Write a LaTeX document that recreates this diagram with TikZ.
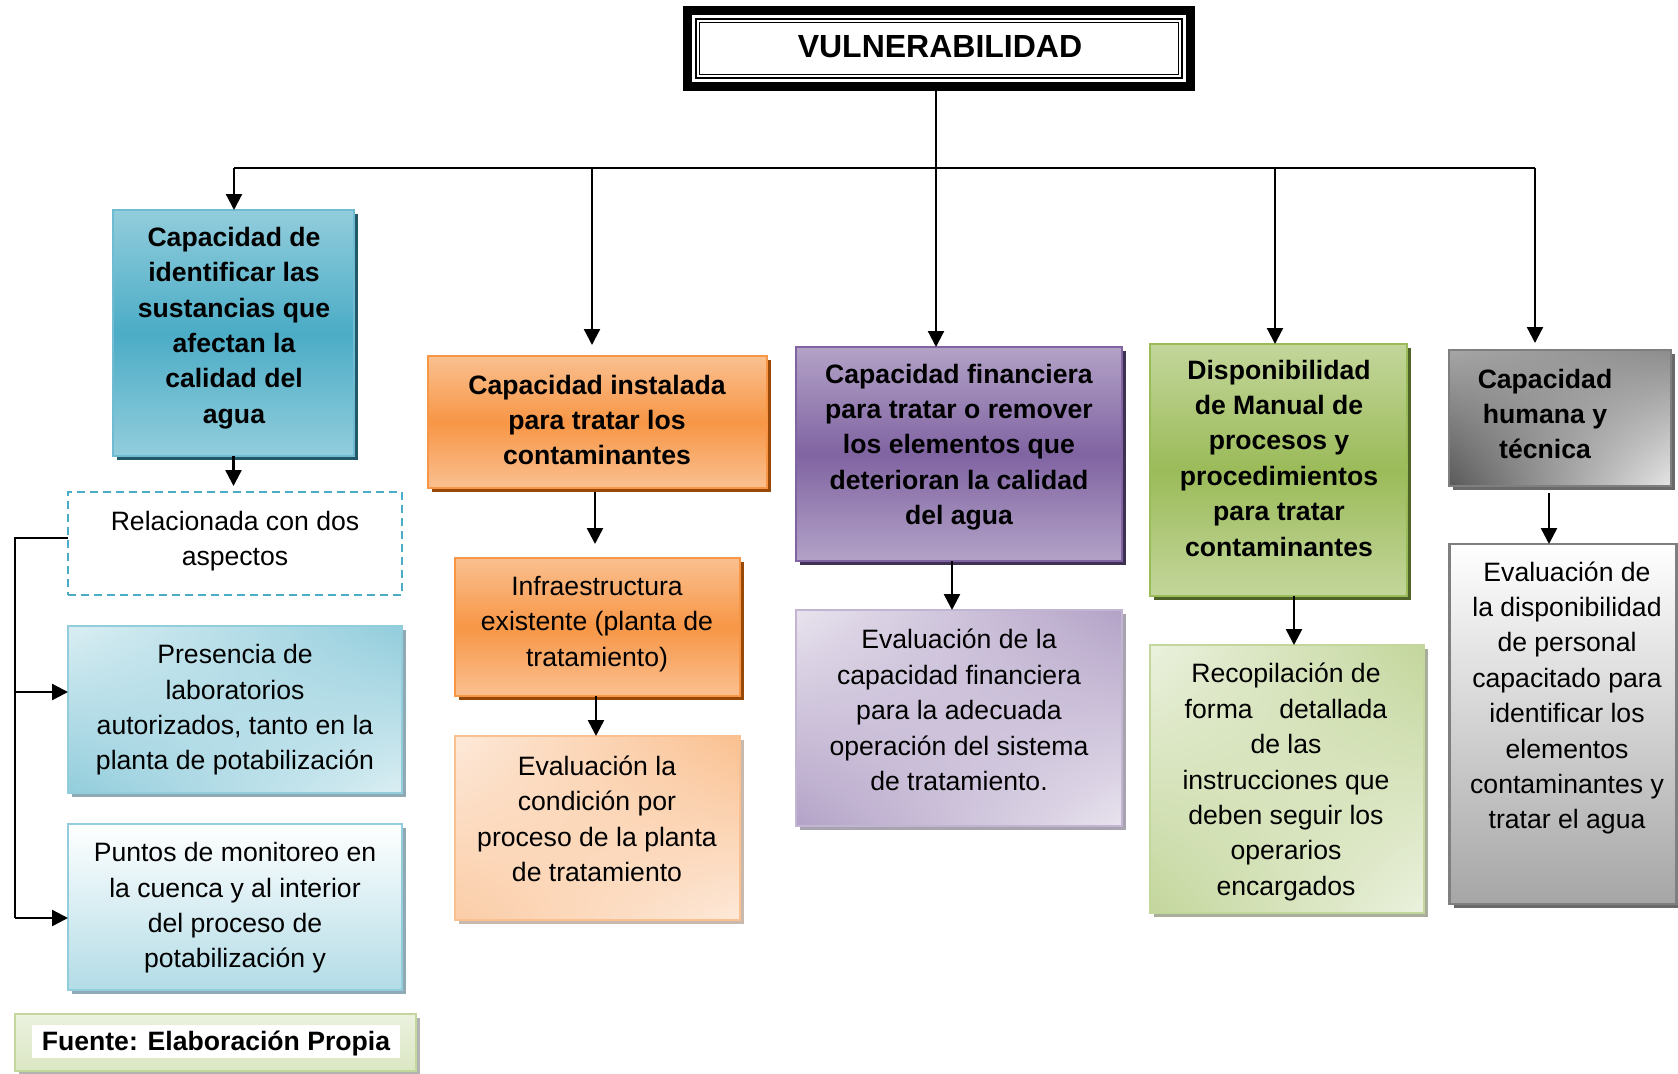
\documentclass[tikz,border=0pt]{standalone}
\usepackage{fontspec}
\setmainfont{Liberation Sans}
\usetikzlibrary{shadows,shadings,arrows.meta}
\definecolor{blueM}{HTML}{4BACC6}
\definecolor{blueL}{HTML}{92CDDC}
\definecolor{blueLL}{HTML}{DAEEF3}
\definecolor{blueB}{HTML}{6FBCD2}
\definecolor{blueS}{HTML}{215968}
\definecolor{blueLS}{HTML}{8FAAB4}
\definecolor{orangeM}{HTML}{F79646}
\definecolor{orangeL}{HTML}{FAC090}
\definecolor{orangeLL}{HTML}{FDE9D9}
\definecolor{orangeS}{HTML}{984807}
\definecolor{orangeLS}{HTML}{C9B8AC}
\definecolor{purpleM}{HTML}{8064A2}
\definecolor{purpleL}{HTML}{B3A2C7}
\definecolor{purpleLL}{HTML}{E8E3EE}
\definecolor{purpleS}{HTML}{3F3151}
\definecolor{purpleLS}{HTML}{A9A3B0}
\definecolor{greenM}{HTML}{9BBB59}
\definecolor{greenL}{HTML}{C3D69B}
\definecolor{greenLL}{HTML}{EBF1DE}
\definecolor{greenS}{HTML}{4F6228}
\definecolor{greenLS}{HTML}{A9AE9C}
\definecolor{grayB}{HTML}{7F7F7F}
\definecolor{grayS}{HTML}{6A6A6A}
\begin{document}
\begin{tikzpicture}[x=0.5pt,y=-0.5pt,
  every node/.style={inner sep=0pt, outer sep=0pt},
  txt/.style={font=\fontsize{13.3}{17.7}\selectfont, align=center, text=black},
  txtb/.style={font=\fontsize{13.3}{17.7}\selectfont\bfseries, align=center, text=black},
  box/.style={rectangle, line width=0.9pt},
  shad/.style={general shadow={fill=#1, shadow xshift=2pt, shadow yshift=-2pt}},
  arr/.style={line width=1.25pt, -{Triangle[length=8pt,width=8pt]}},
  arrT/.style={line width=1.1pt, -{Triangle[length=8pt,width=8pt]}},
  thinln/.style={line width=1.1pt},
  brln/.style={line width=0.8pt},
  blueTop/.style={box, draw=blueB, top color=blueL, bottom color=blueL, middle color=blueM, shad=blueS},
  blueDiag/.style={box, draw=blueL, upper left=blueLL, upper right=blueL, lower left=blueL, lower right=blueLL, shad=blueLS},
  blueVert/.style={box, draw=blueL, top color=white, bottom color=blueL!70, shad=blueLS},
  orangeTop/.style={box, draw=orangeM, top color=orangeL, bottom color=orangeL, middle color=orangeM, shad=orangeS},
  orangeDiag/.style={box, draw=orangeL, upper left=orangeLL, upper right=orangeL, lower left=orangeL!80, lower right=orangeLL, shad=orangeLS},
  purpleTop/.style={box, draw=purpleM, top color=purpleL, bottom color=purpleL, middle color=purpleM, shad=purpleS},
  purpleDiag/.style={box, draw=purpleL!80, upper left=purpleLL, upper right=purpleL, lower left=purpleL, lower right=purpleLL, shad=purpleLS},
  greenTop/.style={box, draw=greenM, top color=greenL, bottom color=greenL, middle color=greenM, shad=greenS},
  greenDiag/.style={box, draw=greenL, upper left=greenLL, upper right=greenL, lower left=greenL, lower right=greenLL, shad=greenLS},
  grayTop/.style={box, draw=grayB, upper left=gray!70, upper right=gray!110!black, lower left=black!65, lower right=black!10, shad=grayS},
  grayVert/.style={box, draw=grayB, line width=1.1pt, top color=white, bottom color=black!35, shad=grayS}
]
\useasboundingbox[fill=white] (0,0) rectangle (1678,1073);

% title
\node[draw=black, line width=4.5pt, fill=white, minimum width=251.5pt, minimum height=38pt] (T) at (939,48.5) {};
\draw[line width=1.2pt] ([shift={(4.25pt,-4.25pt)}]T.north west) rectangle ([shift={(-4.25pt,4.25pt)}]T.south east);
\draw[line width=0.45pt] ([shift={(6.2pt,-6.2pt)}]T.north west) rectangle ([shift={(-6.2pt,6.2pt)}]T.south east);
\node[font=\fontsize{16}{19}\selectfont\bfseries] (Tt) at (940,46.5) {VULNERABILIDAD};

% column 1
\node[blueTop, minimum width=120.5pt, minimum height=123pt] (b1) at (233.5,333) {};
\node[txtb] (t1) at (234,328) {Capacidad de\\identificar las\\sustancias que\\afectan la\\calidad del\\agua};
\node[box, draw=blueM, dash pattern=on 4pt off 2.5pt, fill=white, minimum width=167pt, minimum height=51.5pt] (dash) at (235,543.5) {};
\node[txt] (tdash) at (235,541) {Relacionada con dos\\aspectos};
\node[blueDiag, minimum width=167pt, minimum height=83.5pt] (pres) at (235,709.5) {};
\node[txt] (tpres) at (235,710) {Presencia de\\laboratorios\\autorizados, tanto en la\\planta de potabilización};
\node[blueVert, minimum width=167pt, minimum height=83pt] (punt) at (235,907) {};
\node[txt] (tpunt) at (235,908) {Puntos de monitoreo en\\la cuenca y al interior\\del proceso de\\potabilización y};

% fuente
\node[box, draw=greenL, top color=greenLL, bottom color=greenL!60, shad=black!30, minimum width=200.5pt, minimum height=28.5pt] (fu) at (215.5,1042.5) {};
\node[fill=white, minimum width=184pt, minimum height=16.5pt] (fuw) at (216,1041.5) {};
\node[txtb] (tfu) at (216,1043) {Fuente: Elaboración Propia};

% column 2
\node[orangeTop, minimum width=169.5pt, minimum height=66pt] (b2) at (597.5,422) {};
\node[txtb] (t2) at (597,420) {Capacidad instalada\\para tratar los\\contaminantes};
\node[orangeTop, minimum width=142.5pt, minimum height=69pt] (infra) at (597.5,627) {};
\node[txt] (tinfra) at (597,624) {Infraestructura\\existente (planta de\\tratamiento)};
\node[orangeDiag, minimum width=142.5pt, minimum height=92pt] (evo) at (597.5,828) {};
\node[txt] (tevo) at (597,819) {Evaluación la\\condición por\\proceso de la planta\\de tratamiento};

% column 3
\node[purpleTop, minimum width=163pt, minimum height=107pt] (pf) at (959,454) {};
\node[txtb] (tpf) at (959,447) {Capacidad financiera\\para tratar o remover\\los elementos que\\deterioran la calidad\\del agua};
\node[purpleDiag, minimum width=163pt, minimum height=108pt] (ep) at (959,718) {};
\node[txt] (tep) at (959,710) {Evaluación de la\\capacidad financiera\\para la adecuada\\operación del sistema\\de tratamiento.};

% column 4
\node[greenTop, minimum width=128.5pt, minimum height=126pt] (gm) at (1278.5,470) {};
\node[txtb] (tgm) at (1279,458) {Disponibilidad\\de Manual de\\procesos y\\procedimientos\\para tratar\\contaminantes};
\node[greenDiag, minimum width=137pt, minimum height=134pt] (rc) at (1287,779) {};
\node[txt] (trc) at (1286,782) {Recopilación de\\forma\hspace{1em}detallada\\de las\\instrucciones que\\deben seguir los\\operarios\\encargados};

% column 5
\node[grayTop, minimum width=111pt, minimum height=68pt] (gh) at (1560,418) {};
\node[txtb] (tgh) at (1545,414) {Capacidad\\humana y\\técnica};
\node[grayVert, minimum width=113.5pt, minimum height=180pt] (eg) at (1563,724) {};
\node[txt] (teg) at (1567,698) {Evaluación de\\la disponibilidad\\de personal\\capacitado para\\identificar los\\elementos\\contaminantes y\\tratar el agua};

% top connectors
\coordinate (hL) at (234,168);
\coordinate (hR) at (1535,168);
\coordinate (d2) at (592,168);
\coordinate (d3) at (936,168);
\coordinate (d4) at (1275,168);
\draw[thinln] ([xshift=-1.5pt]T.south) -- (d3);
\draw[thinln] (hL) -- (hR);
\draw[arrT] (hL) -- (hL |- b1.north);
\draw[arrT, shorten >=5.5pt] (d2) -- (d2 |- b2.north);
\draw[arrT] (d3) -- (d3 |- pf.north);
\draw[arrT] (d4) -- (d4 |- gm.north);
\draw[arrT, shorten >=3.5pt] (hR) -- (hR |- gh.north);

% vertical arrows between boxes
\draw[arr, shorten >=3pt] (b1.south) -- (b1.south |- dash.north);
\draw[arr, shorten <=2pt, shorten >=7pt] ([xshift=-1.25pt]b2.south) -- ([xshift=-1.25pt]b2.south |- infra.north);
\draw[arr] ([xshift=-0.75pt]infra.south) -- ([xshift=-0.75pt]infra.south |- evo.north);
\draw[arr] ([xshift=-3.5pt]pf.south) -- ([xshift=-3.5pt]pf.south |- ep.north);
\draw[arr] ([xshift=7.75pt]gm.south) -- ([xshift=7.75pt]gm.south |- rc.north);
\draw[arr, shorten <=3.5pt] ([xshift=-5.5pt]gh.south) -- ([xshift=-5.5pt]gh.south |- eg.north);

% left bracket
\coordinate (k1) at (15,538);
\coordinate (k2) at (15,692);
\coordinate (k3) at (15,918);
\draw[brln] (k1 -| dash.west) -- (k1) -- (k3);
\draw[arr] (k2) -- (k2 -| pres.west);
\draw[arr] (k3) -- (k3 -| punt.west);
\end{tikzpicture}
\end{document}
